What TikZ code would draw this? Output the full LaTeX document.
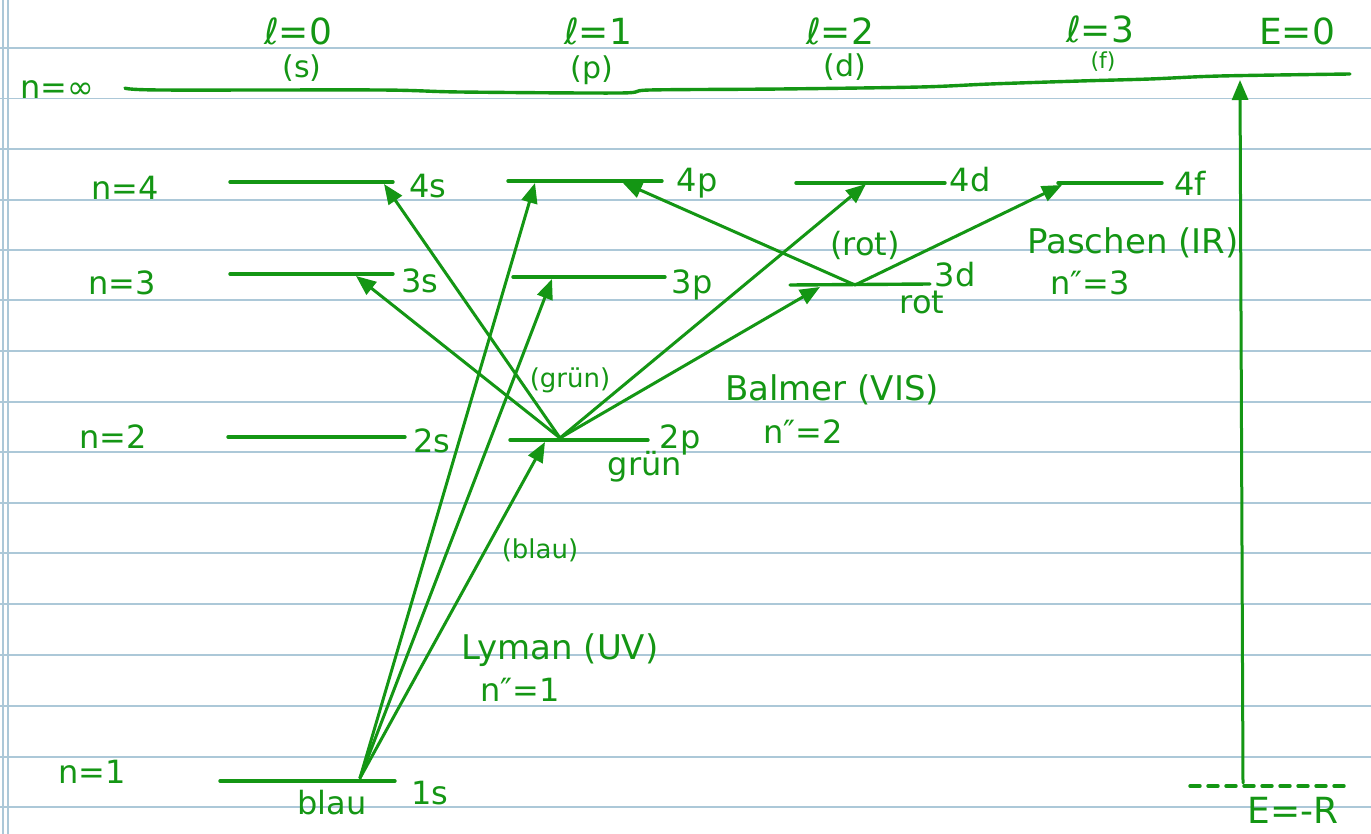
\documentclass[tikz,border=0pt]{standalone}
\usepackage{fontspec}
\setmainfont{DejaVu Sans}
\usetikzlibrary{arrows.meta}
\definecolor{ink}{RGB}{20,150,20}
\definecolor{paper}{RGB}{172,200,216}
\begin{document}
\begin{tikzpicture}[x=0.5pt,y=-0.5pt,
  inkline/.style={draw=ink, line width=1.7pt, line cap=round, line join=round},
  lvl/.style={inkline},
  trans/.style={inkline, line width=1.5pt, -{Triangle[length=10pt,width=8pt]}},
  lab/.style={text=ink, inner sep=0pt, font=\fontsize{16}{16}\selectfont},
  biglab/.style={lab, font=\fontsize{18}{18}\selectfont},
  midlab/.style={lab, font=\fontsize{15}{15}\selectfont},
  smalllab/.style={lab, font=\fontsize{13}{13}\selectfont},
  paperrule/.style={draw=paper, line width=0.8pt}]
\useasboundingbox (0,0) rectangle (1371,834);
\fill[white] (0,0) rectangle (1371,834);
% lined paper
\foreach \yy in {48,98.5,149,200,250,300,351,402,452,503,553,604,655,706,757,807}
  \draw[paperrule] (0,\yy) -- (1371,\yy);
\draw[paperrule] (3,0) -- (3,834);
\draw[paperrule] (8,0) -- (8,834);

% n = infinity line (E=0)
\coordinate (infL) at (125,88);
\coordinate (infR) at (1350,74);
\draw[lvl] plot[smooth] coordinates {(infL) (160,90) (380,90) (460,92) (620,93) (650,90) (780,89) (920,87) (990,84) (1080,81) (1150,79) (1220,76) (infR)};

% level end points
\coordinate (s4L) at (230,182); \coordinate (s4R) at (393,182);
\coordinate (p4L) at (508,181); \coordinate (p4R) at (662,181);
\coordinate (d4L) at (796,183); \coordinate (d4R) at (945,183);
\coordinate (f4L) at (1058,183); \coordinate (f4R) at (1162,183);
\coordinate (s3L) at (230,274); \coordinate (s3R) at (393,274);
\coordinate (p3L) at (513,277); \coordinate (p3R) at (665,277);
\coordinate (d3L) at (790,285); \coordinate (d3R) at (930,284);
\coordinate (s2L) at (228,437); \coordinate (s2R) at (405,437);
\coordinate (p2L) at (510,440); \coordinate (p2R) at (648,440);
\coordinate (s1L) at (220,781); \coordinate (s1R) at (395,781);
\foreach \a/\b in {s4L/s4R,p4L/p4R,d4L/d4R,f4L/f4R,s3L/s3R,p3L/p3R,d3L/d3R,s2L/s2R,p2L/p2R,s1L/s1R}
  \draw[lvl] (\a) -- (\b);

% E = -R dashed line
\coordinate (ERL) at (1190,786);
\coordinate (ERR) at (1348,786);
\draw[inkline, dash pattern=on 5pt off 4pt] (ERL) -- (ERR);

% transition points
\coordinate (o1) at (360,778);
\coordinate (o2) at (560,438);
\coordinate (o3) at (855,285);
\coordinate (t4pL) at (535,183);
\coordinate (t3p) at (552,279);
\coordinate (t2p) at (545,442);
\coordinate (t4s) at (384,184);
\coordinate (t3s) at (356,276);
\coordinate (t4d) at (866,184);
\coordinate (t3d) at (820,287);
\coordinate (t4pP) at (622,182);
\coordinate (t4f) at (1062,185);
\coordinate (Ebot) at (1243,783);
\coordinate (Etop) at (1240,80);

% Lyman
\draw[trans] (o1) -- (t4pL);
\draw[trans] (o1) -- (t3p);
\draw[trans] (o1) -- (t2p);
% Balmer
\draw[trans] (o2) -- (t4s);
\draw[trans] (o2) -- (t3s);
\draw[trans] (o2) -- (t4d);
\draw[trans] (o2) -- (t3d);
% Paschen
\draw[trans] (o3) -- (t4pP);
\draw[trans] (o3) -- (t4f);
% ionisation
\draw[trans] (Ebot) -- (Etop);

% labels: quantum numbers
\node[lab] (ninf) at (57,90) {n=∞};
\node[lab] (n4) at (125,188) {n=4};
\node[lab] (n3) at (122,283) {n=3};
\node[lab] (n2) at (113,437) {n=2};
\node[lab] (n1) at (92,772) {n=1};
\node[biglab] (l0) at (298,31) {ℓ=0};
\node[midlab] (l0s) at (302,68) {(s)};
\node[biglab] (l1) at (598,31) {ℓ=1};
\node[midlab] (l1p) at (592,70) {(p)};
\node[biglab] (l2) at (840,31) {ℓ=2};
\node[midlab] (l2d) at (845,67) {(d)};
\node[biglab] (l3) at (1100,29) {ℓ=3};
\node[lab, font=\fontsize{11}{11}\selectfont] (l3f) at (1103,62) {(f)};
\node[biglab] (E0) at (1297,31) {E=0};
\node[biglab] (ER) at (1293,810) {E=-R};

% orbital labels
\node[lab] (L4s) at (428,186) {4s};
\node[lab] (L4p) at (697,183) {4p};
\node[lab] (L4d) at (970,180) {4d};
\node[lab] (L4f) at (1190,183) {4f};
\node[lab] (L3s) at (420,281) {3s};
\node[lab] (L3p) at (692,285) {3p};
\node[lab] (L3d) at (955,275) {3d};
\node[lab] (L2s) at (432,441) {2s};
\node[lab] (L2p) at (680,440) {2p};
\node[lab] (L1s) at (430,793) {1s};

% colour notes
\node[lab] (rot1) at (922,302) {rot};
\node[lab] (rot2) at (865,245) {(rot)};
\node[lab] (gruen1) at (645,467) {grün};
\node[smalllab] (gruen2) at (570,380) {(grün)};
\node[smalllab] (blau1) at (540,550) {(blau)};
\node[lab] (blau2) at (332,803) {blau};

% series
\node[lab, font=\fontsize{17}{17}\selectfont] (balmer) at (832,390) {Balmer (VIS)};
\node[lab] (nb) at (803,432) {n″=2};
\node[lab, font=\fontsize{17}{17}\selectfont] (lyman) at (560,650) {Lyman (UV)};
\node[lab] (nl) at (520,690) {n″=1};
\node[lab, font=\fontsize{17}{17}\selectfont] (paschen) at (1133,243) {Paschen (IR)};
\node[lab] (np) at (1090,283) {n″=3};
\end{tikzpicture}
\end{document}
